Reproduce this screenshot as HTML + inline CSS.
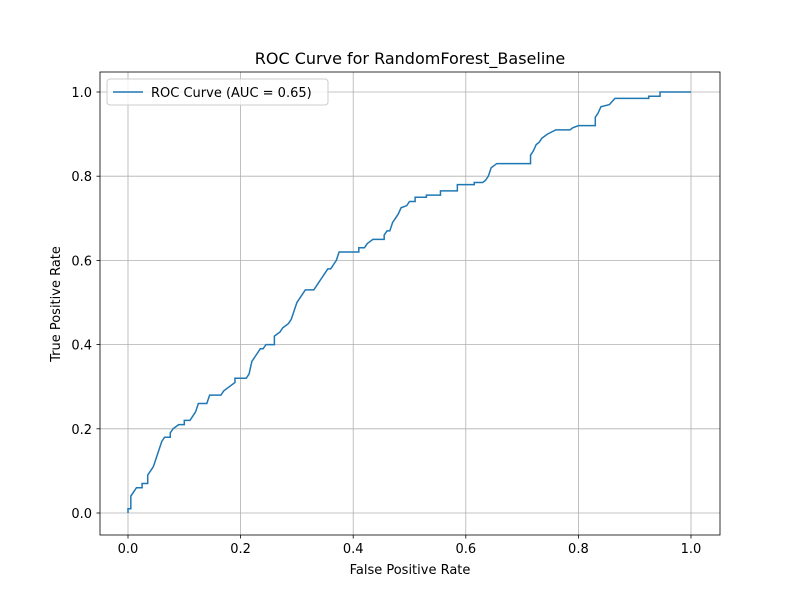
<!DOCTYPE html>
<html><head><meta charset="utf-8"><style>
body{margin:0;background:#fff}
svg text{font-family:"DejaVu Sans","Liberation Sans",sans-serif;fill:#000}
</style></head><body>
<svg id="chart" width="800" height="600" xmlns="http://www.w3.org/2000/svg">
<rect width="800" height="600" fill="#fff"/>
<g id="grid"></g>
<g id="ticks"></g>
<polyline id="roc" fill="none" stroke="#1f77b4" stroke-width="1.5"/>
<rect x="100" y="72" width="620" height="463" fill="none" stroke="#000" stroke-width="0.8"/>
<text x="410" y="64" text-anchor="middle" font-size="16">ROC Curve for RandomForest_Baseline</text>
<text x="410" y="574" text-anchor="middle" font-size="13">False Positive Rate</text>
<text transform="translate(60,304) rotate(-90)" text-anchor="middle" font-size="13">True Positive Rate</text>
<g>
<rect x="107" y="79" width="221" height="26" rx="3" fill="#fff" fill-opacity="0.8" stroke="#ccc"/>
<line x1="113" y1="92" x2="143" y2="92" stroke="#1f77b4" stroke-width="1.5"/>
<text x="151" y="97" font-size="13">ROC Curve (AUC = 0.65)</text>
</g>
</svg>
<script>
const fpr=[0,0,0.005,0.005,0.01,0.015,0.025,0.025,0.035,0.035,0.04,0.045,0.05,0.055,0.06,0.065,0.075,0.075,0.08,0.09,0.1,0.1,0.11,0.115,0.12,0.125,0.14,0.145,0.165,0.17,0.18,0.19,0.19,0.21,0.215,0.22,0.225,0.23,0.235,0.24,0.245,0.26,0.26,0.27,0.275,0.285,0.29,0.295,0.3,0.305,0.31,0.315,0.33,0.335,0.34,0.345,0.35,0.355,0.36,0.365,0.37,0.375,0.41,0.41,0.42,0.425,0.43,0.435,0.455,0.455,0.46,0.465,0.47,0.475,0.48,0.485,0.495,0.5,0.51,0.51,0.53,0.53,0.555,0.555,0.585,0.585,0.615,0.615,0.63,0.635,0.64,0.645,0.65,0.655,0.715,0.715,0.72,0.725,0.73,0.735,0.745,0.76,0.785,0.79,0.8,0.83,0.83,0.835,0.84,0.855,0.865,0.925,0.925,0.945,0.945,1.0];
const tpr=[0,0.01,0.01,0.04,0.05,0.06,0.06,0.07,0.07,0.09,0.10,0.11,0.13,0.15,0.17,0.18,0.18,0.19,0.20,0.21,0.21,0.22,0.22,0.23,0.24,0.26,0.26,0.28,0.28,0.29,0.30,0.31,0.32,0.32,0.33,0.36,0.37,0.38,0.39,0.39,0.40,0.40,0.42,0.43,0.44,0.45,0.46,0.48,0.50,0.51,0.52,0.53,0.53,0.54,0.55,0.56,0.57,0.58,0.58,0.59,0.60,0.62,0.62,0.63,0.63,0.64,0.645,0.65,0.65,0.66,0.67,0.67,0.69,0.70,0.71,0.725,0.73,0.74,0.74,0.75,0.75,0.755,0.755,0.765,0.765,0.78,0.78,0.785,0.785,0.79,0.80,0.82,0.825,0.83,0.83,0.85,0.86,0.875,0.88,0.89,0.90,0.91,0.91,0.915,0.92,0.92,0.94,0.95,0.965,0.97,0.985,0.985,0.99,0.99,1.0,1.0];
const xTicks=[0,0.2,0.4,0.6,0.8,1.0];
const yTicks=[0,0.2,0.4,0.6,0.8,1.0];
const xTickLabels=["0.0","0.2","0.4","0.6","0.8","1.0"];
const yTickLabels=["0.0","0.2","0.4","0.6","0.8","1.0"];
const X=v=>128+v*563, Y=v=>513-v*421;
const NS="http://www.w3.org/2000/svg";
const grid=document.getElementById('grid'), ticks=document.getElementById('ticks');
function mk(tag,attrs,parent){const e=document.createElementNS(NS,tag);for(const k in attrs)e.setAttribute(k,attrs[k]);parent.appendChild(e);return e;}
xTicks.forEach((v,i)=>{
  const g=mk('line',{x1:X(v),x2:X(v),y1:72,y2:535,stroke:'#b0b0b0','stroke-width':0.8},grid);
  
  
  const t=mk('line',{x1:X(v),x2:X(v),y1:535,y2:538.5,stroke:'#000','stroke-width':0.8},ticks);
  
  
  const l=mk('text',{x:X(v),y:553,'text-anchor':'middle','font-size':13},ticks);
  l.textContent=xTickLabels[i];
  
  
});
yTicks.forEach((v,i)=>{
  const g=mk('line',{x1:100,x2:720,y1:Y(v),y2:Y(v),stroke:'#b0b0b0','stroke-width':0.8},grid);
  
  
  const t=mk('line',{x1:96.5,x2:100,y1:Y(v),y2:Y(v),stroke:'#000','stroke-width':0.8},ticks);
  
  
  const l=mk('text',{x:92,y:Y(v)+5,'text-anchor':'end','font-size':13},ticks);
  l.textContent=yTickLabels[i];
  
  
});
document.getElementById('roc').setAttribute('points',fpr.map((f,i)=>X(f)+','+Y(tpr[i])).join(' '));
</script>
</body></html>
